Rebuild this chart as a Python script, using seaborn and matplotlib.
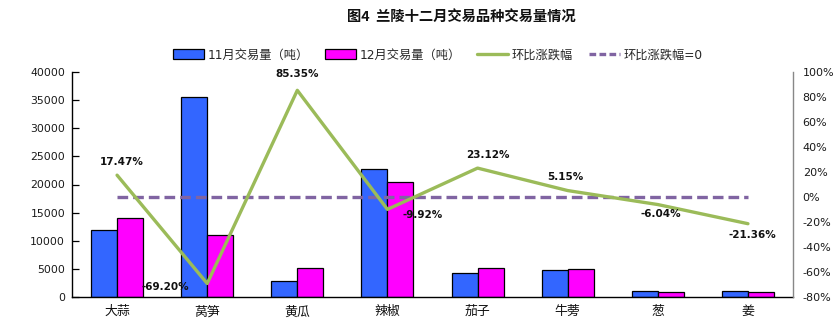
import numpy as np
import pandas as pd
import seaborn as sns
import matplotlib
matplotlib.use("Agg")
import matplotlib.pyplot as plt
from matplotlib.lines import Line2D
from matplotlib.ticker import FuncFormatter, MultipleLocator

sns.set_style("white")
plt.rcParams["font.family"] = ["DejaVu Sans", "Noto Sans CJK SC"]
plt.rcParams["axes.unicode_minus"] = False

categories = ["大蒜", "莴笋", "黄瓜", "辣椒", "茄子", "牛蒡", "葱", "姜"]
nov_volume = [12000, 35600, 2780, 22700, 4200, 4800, 1000, 1150]
dec_volume = [14096, 10965, 5153, 20448, 5171, 5047, 940, 904]
change_pct = [17.47, -69.20, 85.35, -9.92, 23.12, 5.15, -6.04, -21.36]
series_names = ["11月交易量（吨）", "12月交易量（吨）"]
line_names = ["环比涨跌幅", "环比涨跌幅=0"]
title = "图4  兰陵十二月交易品种交易量情况"

# pixel offsets of each value label relative to its point
label_offsets = [(5, 13), (-42, -3), (0, 16), (35, -6), (10, 13), (-2, 14), (3, -9), (4, -11)]

df = pd.DataFrame({
    "品种": categories * 2,
    "月份": [series_names[0]] * len(categories) + [series_names[1]] * len(categories),
    "交易量": nov_volume + dec_volume,
})

fig = plt.figure(figsize=(8.4, 3.3), dpi=100)
ax = fig.add_axes([72 / 840, 1 - 297 / 330, (793 - 72) / 840, (297 - 72) / 330])

sns.barplot(data=df, x="品种", y="交易量", hue="月份", hue_order=series_names,
            palette=["#3366FF", "#FF00FF"], saturation=1, width=0.577, gap=0,
            edgecolor="black", linewidth=0.9, ax=ax)
bar_handles, bar_labels = ax.get_legend_handles_labels()
if ax.legend_ is not None:
    ax.legend_.remove()

ax.set_xlim(-0.5, len(categories) - 0.5)
ax.set_ylim(0, 40000)
ax.yaxis.set_major_locator(MultipleLocator(5000))
ax.set_xlabel("")
ax.set_ylabel("")
ax.set_xticks(np.arange(len(categories)))
ax.set_xticklabels(categories, fontsize=9.3, color="#111111")
ax.set_xticks(np.arange(len(categories) - 1) + 0.5, minor=True)
ax.tick_params(axis="x", which="major", length=0, pad=6)
ax.tick_params(axis="x", which="minor", direction="in", length=5, width=0.9, color="black")
ax.tick_params(axis="y", direction="in", length=5, width=0.9, color="black",
               labelsize=7.8, labelcolor="#1a1a1a", pad=5, left=True)
for side in ["top", "right"]:
    ax.spines[side].set_visible(False)
ax.spines["left"].set_color("black")
ax.spines["bottom"].set_color("black")
ax.spines["left"].set_linewidth(1.0)
ax.spines["bottom"].set_linewidth(1.0)

ax2 = ax.twinx()
positions = np.arange(len(categories))
ax2.hlines(0, positions[0], positions[-1], colors="#8064A2", linestyles=(0, (3.2, 1.5)),
           linewidth=2.4, zorder=3)
sns.lineplot(x=positions, y=change_pct, ax=ax2, color="#9BBB59", linewidth=2.4,
             zorder=4, legend=False)
ax2.set_ylim(-80, 100)
ax2.yaxis.set_major_locator(MultipleLocator(20))
ax2.yaxis.set_major_formatter(FuncFormatter(lambda v, _: f"{v:.0f}%"))
ax2.tick_params(axis="y", length=0, labelsize=8, labelcolor="#1a1a1a", pad=7)
for side in ["top", "left", "bottom"]:
    ax2.spines[side].set_visible(False)
ax2.spines["right"].set_color("#888888")
ax2.spines["right"].set_linewidth(1.0)

for x, v, (dx, dy) in zip(positions, change_pct, label_offsets):
    ax2.annotate(f"{v:.2f}%", (x, v), xytext=(dx, dy), textcoords="offset pixels",
                 ha="center", va="center", fontsize=7.5, fontweight="bold", color="#111111",
                 zorder=5)

line_handles = [
    Line2D([], [], color="#9BBB59", linewidth=2.4),
    Line2D([], [], color="#8064A2", linewidth=2.4, linestyle=(0, (2, 1))),
]
fig.legend(bar_handles + line_handles, bar_labels + line_names,
           loc="center", bbox_to_anchor=(438 / 840, 1 - 55 / 330), ncol=4,
           frameon=False, fontsize=8.8, handlelength=2.5, handleheight=0.9,
           handletextpad=0.35, columnspacing=1.3)

fig.text(461 / 840, 1 - 18 / 330, title, ha="center", va="center",
         fontsize=10.3, fontweight="bold", color="#111111",
         family=["Noto Sans CJK SC", "DejaVu Sans"])

fig.savefig("out.png", dpi=100)
